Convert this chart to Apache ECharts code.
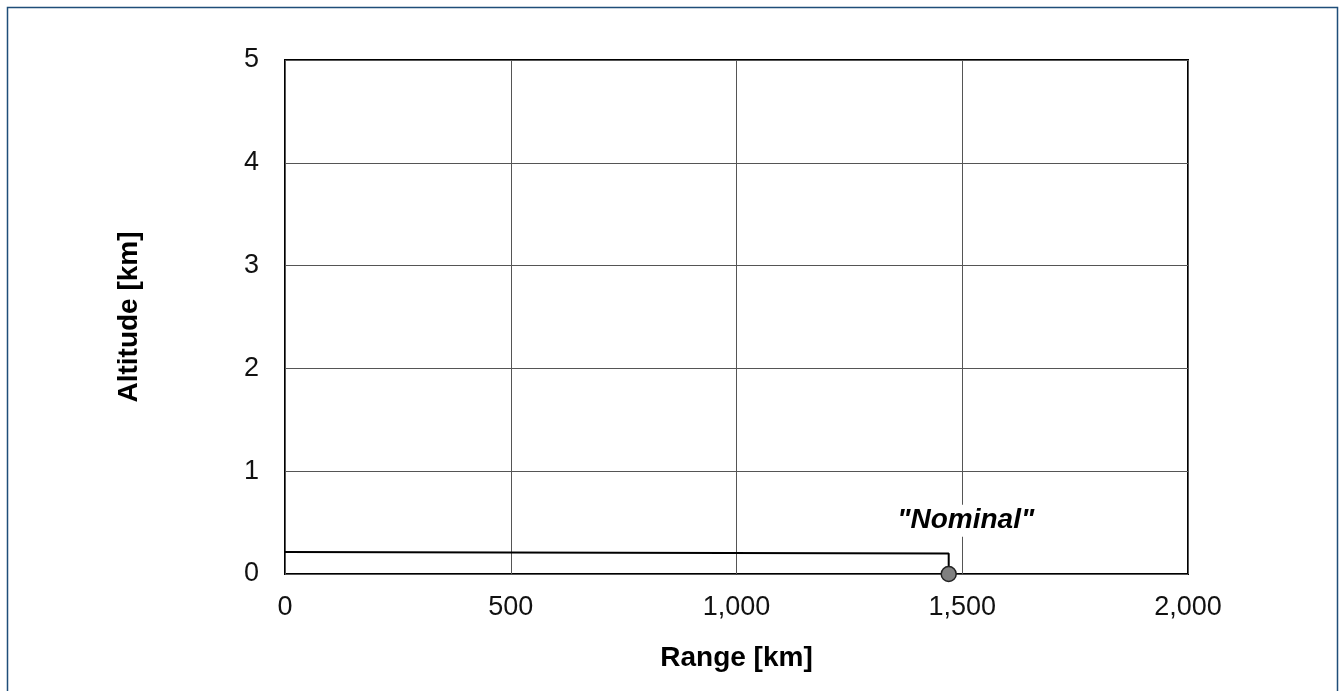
<!DOCTYPE html>
<html><head><meta charset="utf-8">
<script src="https://cdn.jsdelivr.net/npm/echarts@6/dist/echarts.min.js"></script>
<style>html,body{margin:0;padding:0;background:#fff}#c{width:1340px;height:691px}</style>
</head><body><div id="c"></div>
<script>
const rangeKm = [0, 1470, 1470];
const altitudeKm = [0.215, 0.2, 0];
const xTicks = [0, 500, 1000, 1500, 2000];
const yTicks = [0, 1, 2, 3, 4, 5];
const pointLabel = '"Nominal"';

const chart = echarts.init(document.getElementById('c'), null, {renderer: 'canvas'});
const lineData = rangeKm.map((x, i) => [x, altitudeKm[i]]);
const last = lineData.length - 1;
const font = 'Liberation Sans, Arial, sans-serif';
chart.setOption({
  animation: false,
  graphic: [{
    type: 'rect', shape: {x: 7.5, y: 7.5, width: 1330, height: 700},
    style: {fill: 'none', stroke: '#1f4e79', lineWidth: 1.5}, silent: true, z: -1
  }],
  grid: {left: 285, top: 60, width: 903, height: 514, show: true, borderColor: '#000', borderWidth: 2, backgroundColor: 'transparent'},
  xAxis: {
    type: 'value', min: xTicks[0], max: xTicks[xTicks.length - 1], interval: 500,
    name: 'Range [km]', nameLocation: 'middle', nameGap: 70,
    nameTextStyle: {fontFamily: font, fontSize: 28, fontWeight: 'bold', color: '#000'},
    axisLine: {show: false}, axisTick: {show: false},
    axisLabel: {fontFamily: font, fontSize: 27, color: '#111', margin: 20,
      formatter: v => v.toLocaleString('en-US')},
    splitLine: {show: true, lineStyle: {color: '#555', width: 1}}
  },
  yAxis: {
    type: 'value', min: yTicks[0], max: yTicks[yTicks.length - 1], interval: 1,
    name: 'Altitude [km]', nameLocation: 'middle', nameGap: 142,
    nameTextStyle: {fontFamily: font, fontSize: 28, fontWeight: 'bold', color: '#000'},
    axisLine: {show: false}, axisTick: {show: false},
    axisLabel: {fontFamily: font, fontSize: 27, color: '#111', margin: 26},
    splitLine: {show: true, lineStyle: {color: '#555', width: 1}}
  },
  series: [{
    type: 'line', data: lineData.map((p, i) => i === last ? {
      value: p, symbol: 'circle', symbolSize: 15,
      itemStyle: {color: '#808080', borderColor: '#222', borderWidth: 1.5},
      label: {show: true, formatter: pointLabel, position: 'top', offset: [17, -24],
        fontFamily: font, fontSize: 28, fontWeight: 'bold', fontStyle: 'italic', color: '#000',
        backgroundColor: '#fff', padding: [2, 4]}
    } : {value: p, symbol: 'none'}),
    showSymbol: true,
    lineStyle: {color: '#000', width: 2},
    z: 5
  }]
});
</script></body></html>
